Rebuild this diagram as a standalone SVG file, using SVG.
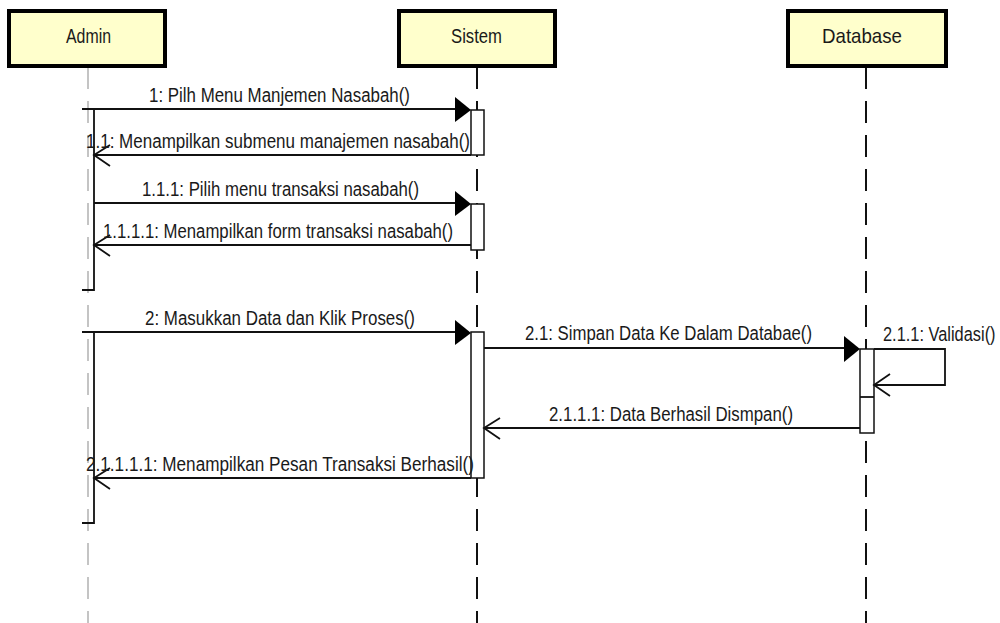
<svg xmlns="http://www.w3.org/2000/svg" width="1000" height="623" viewBox="0 0 1000 623">
<style>
.head{fill:#FFFFCC;stroke:#000;stroke-width:4}
.ht{font-family:"Liberation Sans",Arial,sans-serif;font-size:21px;fill:#1a1a1a;text-anchor:middle}
.mt{font-family:"Liberation Sans",Arial,sans-serif;font-size:19.5px;fill:#1a1a1a}
.life{stroke:#111;stroke-width:2;stroke-dasharray:22 12;fill:none}
.lifeg{stroke:#c4c4c4;stroke-width:2;stroke-dasharray:22 12;fill:none}
.act{fill:#fff;stroke:#111;stroke-width:1.5}
.msg{stroke:#111;stroke-width:1.8;fill:none}
.fill{fill:#000;stroke:none}
</style>
<rect width="1000" height="623" fill="#fff"/>
<g id="lifelines">
<line class="lifeg" x1="88" y1="67" x2="88" y2="623"/>
<line class="life" x1="477" y1="67" x2="477" y2="623"/>
<line class="life" x1="866" y1="67" x2="866" y2="623"/>
</g>
<g id="admin">
<rect class="head" x="9" y="11" width="156" height="55"/>
<text class="ht" x="88.5" y="43" textLength="45" lengthAdjust="spacingAndGlyphs">Admin</text>
<path class="msg" d="M82,109 H94 V290 H82"/>
<path class="msg" d="M82,332 H94 V523 H82"/>
</g>
<g id="sistem">
<rect class="head" x="399" y="11" width="156" height="55"/>
<text class="ht" x="476.5" y="43" textLength="51" lengthAdjust="spacingAndGlyphs">Sistem</text>
<rect class="act" x="471" y="110" width="13" height="45"/>
<rect class="act" x="471" y="204" width="13" height="46"/>
<rect class="act" x="471" y="332" width="13" height="146"/>
</g>
<g id="database">
<rect class="head" x="788" y="11" width="158" height="55"/>
<text class="ht" x="862" y="43" textLength="80" lengthAdjust="spacingAndGlyphs">Database</text>
<rect class="act" x="860" y="349" width="14" height="84"/>
<line class="msg" x1="860" y1="397" x2="874" y2="397" stroke-width="1.5"/>
</g>
<g id="connectors">
<line class="msg" x1="94" y1="109" x2="458" y2="109"/>
<polygon class="fill" points="455,97 471,110 455,122"/>
<text class="mt" x="149" y="102" textLength="261" lengthAdjust="spacingAndGlyphs">1: Pilh Menu Manjemen Nasabah()</text>

<line class="msg" x1="471" y1="155" x2="94" y2="155"/>
<path class="msg" d="M110,145 L94,155 L110,166"/>
<text class="mt" x="86" y="148" textLength="384" lengthAdjust="spacingAndGlyphs">1.1: Menampilkan submenu manajemen nasabah()</text>

<line class="msg" x1="94" y1="203" x2="458" y2="203"/>
<polygon class="fill" points="455,191 471,204 455,216"/>
<text class="mt" x="142" y="196" textLength="277" lengthAdjust="spacingAndGlyphs">1.1.1: Pilih menu transaksi nasabah()</text>

<line class="msg" x1="471" y1="245" x2="94" y2="245"/>
<path class="msg" d="M110,235 L94,245 L110,256"/>
<text class="mt" x="103" y="238" textLength="350" lengthAdjust="spacingAndGlyphs">1.1.1.1: Menampilkan form transaksi nasabah()</text>

<line class="msg" x1="94" y1="332" x2="458" y2="332"/>
<polygon class="fill" points="455,320 471,333 455,345"/>
<text class="mt" x="145" y="325" textLength="270" lengthAdjust="spacingAndGlyphs">2: Masukkan Data dan Klik Proses()</text>

<line class="msg" x1="484" y1="348" x2="847" y2="348"/>
<polygon class="fill" points="844,336 860,349 844,362"/>
<text class="mt" x="525" y="340" textLength="287" lengthAdjust="spacingAndGlyphs">2.1: Simpan Data Ke Dalam Databae()</text>

<path class="msg" d="M874,349 H945 V385 H874"/>
<path class="msg" d="M890,374 L874,385 L890,396"/>
<text class="mt" transform="translate(883,341) scale(0.84,1)" x="0" y="0">2.1.1: Validasi()</text>

<line class="msg" x1="860" y1="428" x2="484" y2="428"/>
<path class="msg" d="M500,418 L484,428 L500,439"/>
<text class="mt" x="549" y="421" textLength="244" lengthAdjust="spacingAndGlyphs">2.1.1.1: Data Berhasil Dismpan()</text>

<line class="msg" x1="471" y1="478" x2="94" y2="478"/>
<path class="msg" d="M110,468 L94,478 L110,489"/>
<text class="mt" x="86" y="471" textLength="388" lengthAdjust="spacingAndGlyphs">2.1.1.1.1: Menampilkan Pesan Transaksi Berhasil()</text>
</g>
</svg>
